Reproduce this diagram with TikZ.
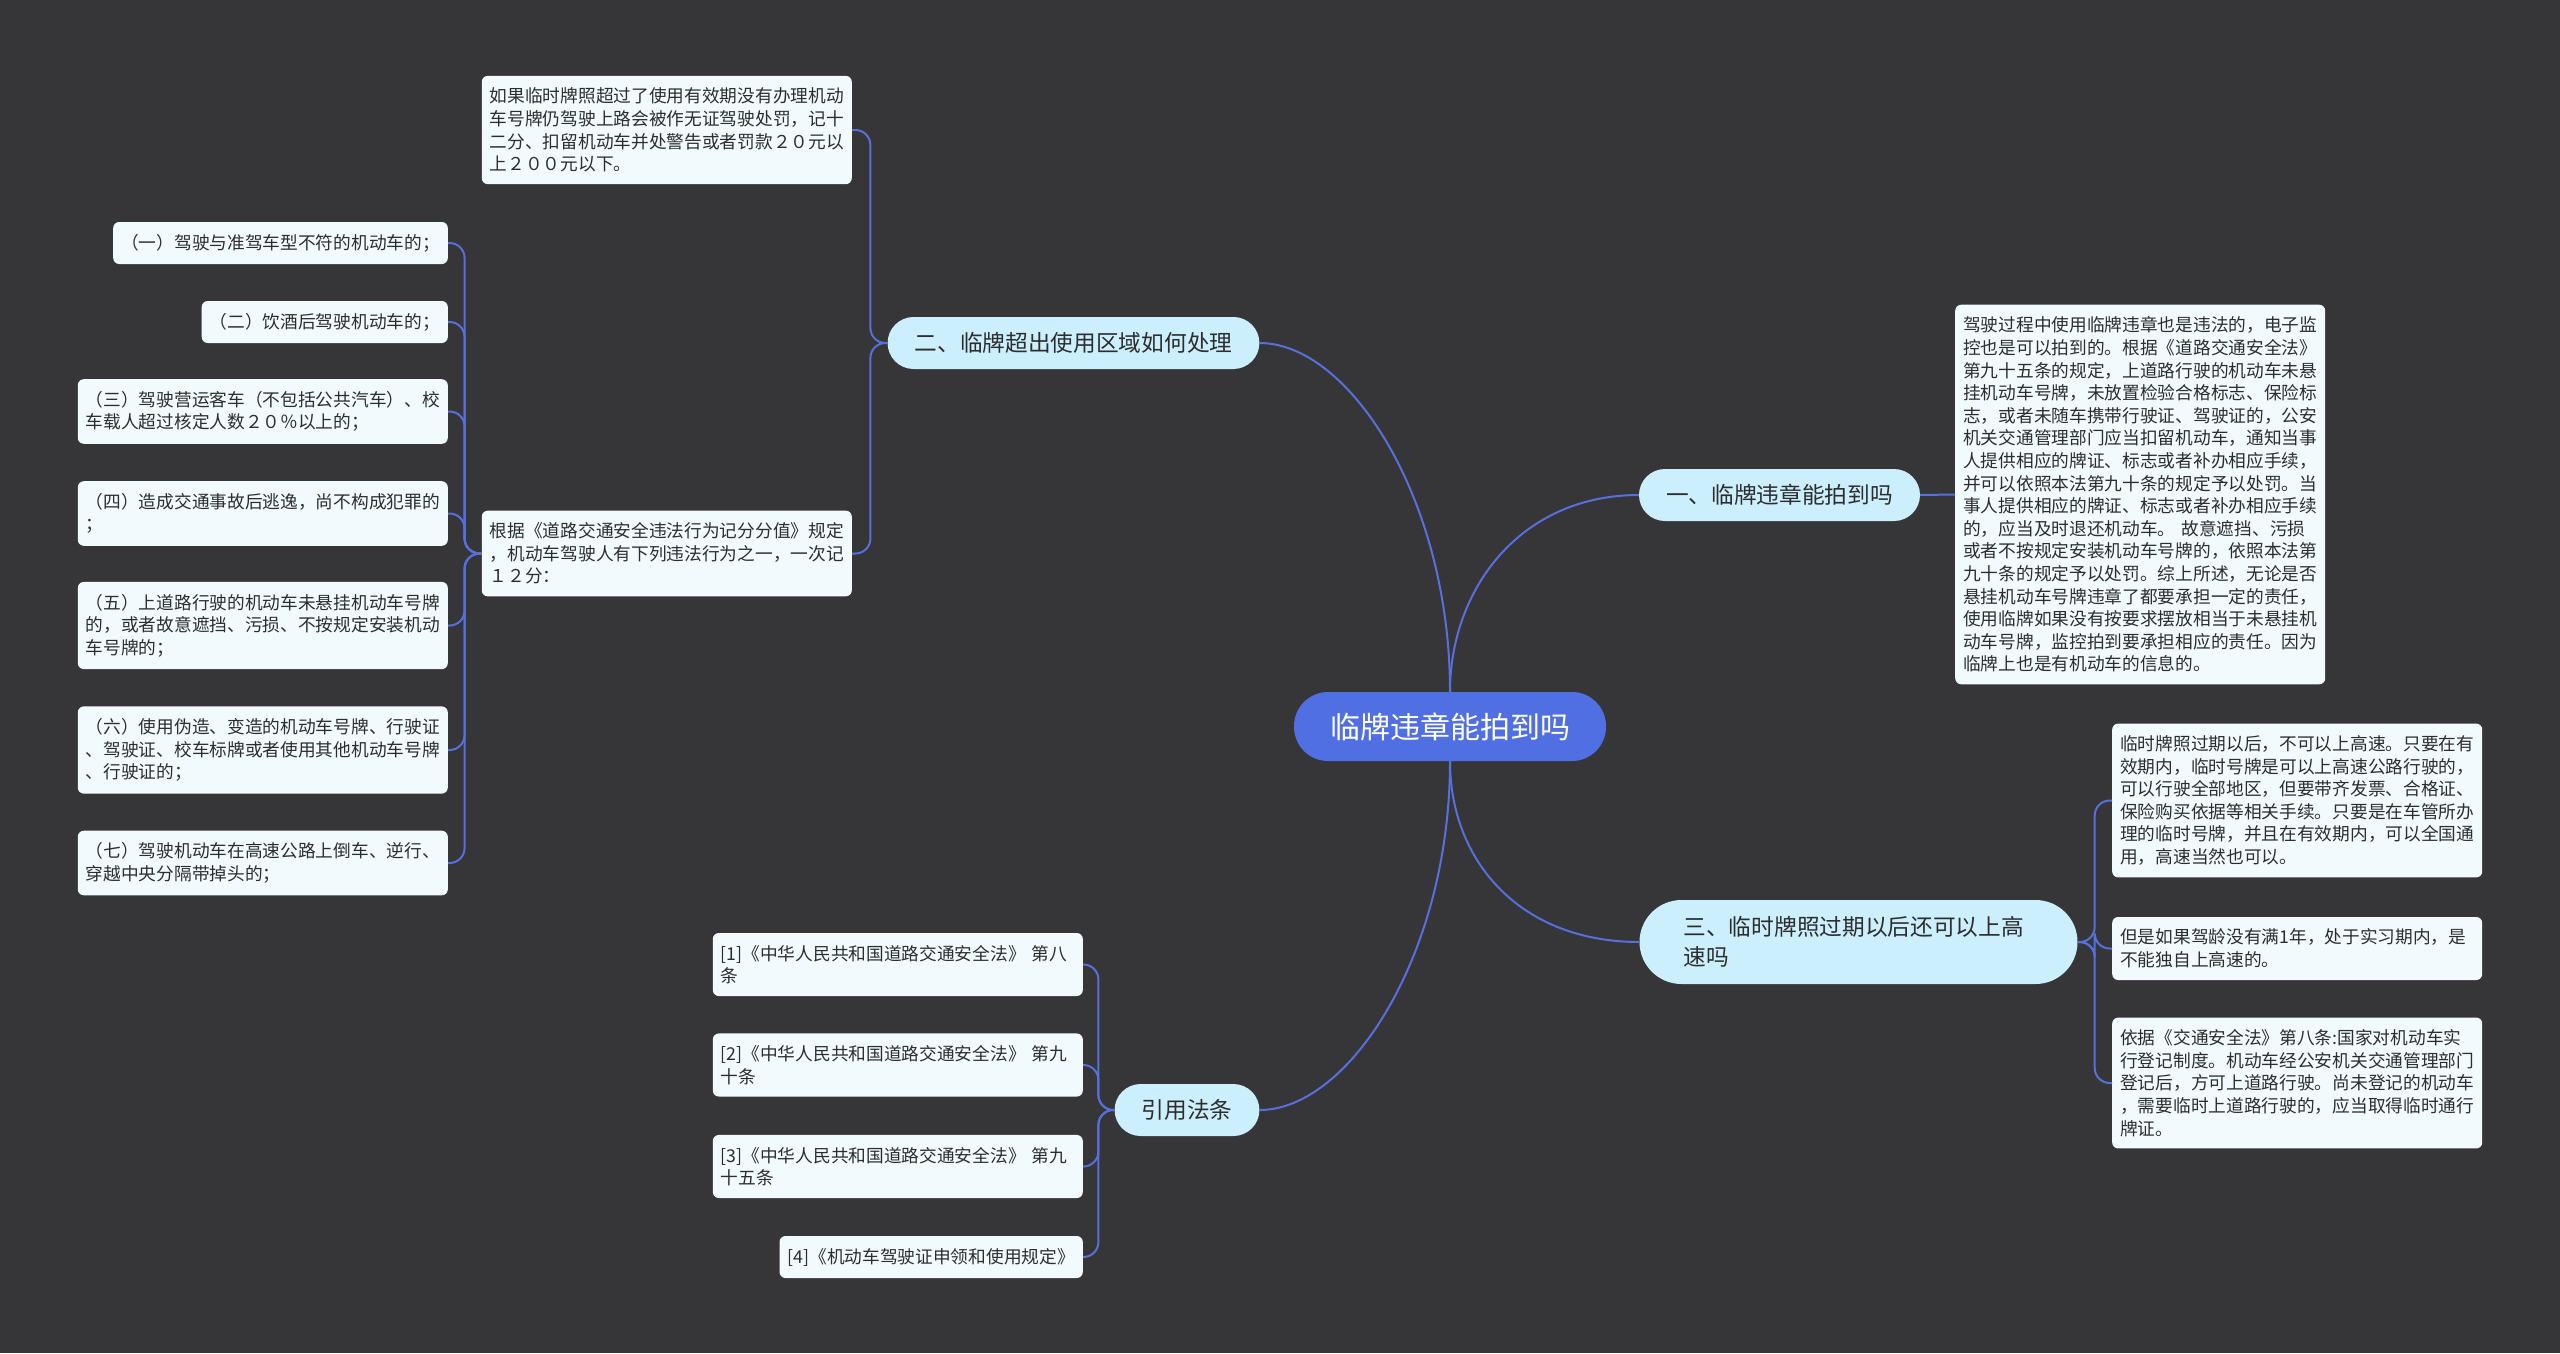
\documentclass[tikz,border=0pt]{standalone}
\usepackage{fontspec}
\setmainfont{Noto Sans CJK SC}
\usetikzlibrary{positioning}
\definecolor{bgdark}{RGB}{54,53,55}
\definecolor{rootblue}{RGB}{80,111,226}
\definecolor{linkblue}{RGB}{86,112,220}
\definecolor{topicfill}{RGB}{204,239,253}
\definecolor{notefill}{RGB}{241,251,254}
\definecolor{inkdark}{RGB}{45,45,45}

\begin{document}
\begin{tikzpicture}[x=1pt, y=-1pt, root/.style={fill=rootblue, text=white, rounded corners=34pt, minimum height=69pt, inner xsep=36pt, font=\fontsize{30}{36}\selectfont}, topic/.style={fill=topicfill, text=inkdark, rounded corners=26pt, minimum height=52pt, inner xsep=27pt, font=\fontsize{22.7}{30}\selectfont}, leaf/.style={fill=notefill, text=inkdark, rounded corners=6pt, align=left, inner xsep=8pt, inner ysep=12pt, font=\fontsize{17.7}{22.6}\selectfont}, note/.style={leaf, text width=354pt}, link/.style={draw=linkblue, line width=2pt}, brace/.style={link, rounded corners=15pt}]
\fill[bgdark] (0,0) rectangle (2560,1353);
\useasboundingbox (0,0) rectangle (2560,1353);
\node[root] (root) at (1450,726.5) {临牌违章能拍到吗};
\node[topic] (shot) at (1779.5,495) {一、临牌违章能拍到吗};
\node[topic] (area) at (1073.5,343) {二、临牌超出使用区域如何处理};
\node[topic, text width=350pt, align=left, inner xsep=44pt, rounded corners=42pt, minimum height=84pt] (expire) at (1858.5,942) {三、临时牌照过期以后还可以上高\\速吗};
\node[topic] (law) at (1187,1110) {引用法条};
\node[note, anchor=west] (shotnote) at (1955,494.5) {驾驶过程中使用临牌违章也是违法的，电子监\\控也是可以拍到的。根据《道路交通安全法》\\第九十五条的规定，上道路行驶的机动车未悬\\挂机动车号牌，未放置检验合格标志、保险标\\志，或者未随车携带行驶证、驾驶证的，公安\\机关交通管理部门应当扣留机动车，通知当事\\人提供相应的牌证、标志或者补办相应手续，\\并可以依照本法第九十条的规定予以处罚。当\\事人提供相应的牌证、标志或者补办相应手续\\的，应当及时退还机动车。 故意遮挡、污损\\或者不按规定安装机动车号牌的，依照本法第\\九十条的规定予以处罚。综上所述，无论是否\\悬挂机动车号牌违章了都要承担一定的责任，\\使用临牌如果没有按要求摆放相当于未悬挂机\\动车号牌，监控拍到要承担相应的责任。因为\\临牌上也是有机动车的信息的。};
\node[note, anchor=east] (areafine) at (852,130) {如果临时牌照超过了使用有效期没有办理机动\\车号牌仍驾驶上路会被作无证驾驶处罚，记十\\二分、扣留机动车并处警告或者罚款２０元以\\上２００元以下。};
\node[note, anchor=east] (arearule) at (852,553.5) {根据《道路交通安全违法行为记分分值》规定\\，机动车驾驶人有下列违法行为之一，一次记\\１２分：};
\node[leaf, anchor=east] (i1) at (448,243) {（一）驾驶与准驾车型不符的机动车的；};
\node[leaf, anchor=east] (i2) at (448,322) {（二）饮酒后驾驶机动车的；};
\node[note, anchor=east] (i3) at (448,411.5) {（三）驾驶营运客车（不包括公共汽车）、校\\车载人超过核定人数２０％以上的；};
\node[note, anchor=east] (i4) at (448,513.5) {（四）造成交通事故后逃逸，尚不构成犯罪的\\；};
\node[note, anchor=east] (i5) at (448,625.5) {（五）上道路行驶的机动车未悬挂机动车号牌\\的，或者故意遮挡、污损、不按规定安装机动\\车号牌的；};
\node[note, anchor=east] (i6) at (448,750) {（六）使用伪造、变造的机动车号牌、行驶证\\、驾驶证、校车标牌或者使用其他机动车号牌\\、行驶证的；};
\node[note, anchor=east] (i7) at (448,863) {（七）驾驶机动车在高速公路上倒车、逆行、\\穿越中央分隔带掉头的；};
\node[note, anchor=west] (exp1) at (2112,800.5) {临时牌照过期以后，不可以上高速。只要在有\\效期内，临时号牌是可以上高速公路行驶的，\\可以行驶全部地区，但要带齐发票、合格证、\\保险购买依据等相关手续。只要是在车管所办\\理的临时号牌，并且在有效期内，可以全国通\\用，高速当然也可以。};
\node[note, anchor=west] (exp2) at (2112,948.5) {但是如果驾龄没有满1年，处于实习期内，是\\不能独自上高速的。};
\node[note, anchor=west] (exp3) at (2112,1083) {依据《交通安全法》第八条:国家对机动车实\\行登记制度。机动车经公安机关交通管理部门\\登记后，方可上道路行驶。尚未登记的机动车\\，需要临时上道路行驶的，应当取得临时通行\\牌证。};
\node[note, anchor=east] (law1) at (1083,964.5) {[1]《中华人民共和国道路交通安全法》 第八\\条};
\node[note, anchor=east] (law2) at (1083,1065) {[2]《中华人民共和国道路交通安全法》 第九\\十条};
\node[note, anchor=east] (law3) at (1083,1166.5) {[3]《中华人民共和国道路交通安全法》 第九\\十五条};
\node[leaf, anchor=east] (law4) at (1083,1257) {[4]《机动车驾驶证申领和使用规定》};
\draw[link] (root.north) .. controls +(0,-102) and +(-119,0) .. (shot.west);
\draw[link] (root.north) .. controls +(0,-192) and +(90,0) .. (area.east);
\draw[link] (root.south) .. controls +(0,100) and +(-119,0) .. (expire.west);
\draw[link] (root.south) .. controls +(0,192) and +(90,0) .. (law.east);
\draw[link] (shot.east) -- (shotnote.west);
\draw[brace] (area.west) -- ++(-17,0) |- (areafine.east);
\draw[brace] (area.west) -- ++(-17,0) |- (arearule.east);
\draw[brace] (arearule.west) -- ++(-17,0) |- (i1.east);
\draw[brace] (arearule.west) -- ++(-17,0) |- (i2.east);
\draw[brace] (arearule.west) -- ++(-17,0) |- (i3.east);
\draw[brace] (arearule.west) -- ++(-17,0) |- (i4.east);
\draw[brace] (arearule.west) -- ++(-17,0) |- (i5.east);
\draw[brace] (arearule.west) -- ++(-17,0) |- (i6.east);
\draw[brace] (arearule.west) -- ++(-17,0) |- (i7.east);
\draw[brace] (expire.east) -- ++(17,0) |- (exp1.west);
\draw[brace] (expire.east) -- ++(17,0) |- (exp2.west);
\draw[brace] (expire.east) -- ++(17,0) |- (exp3.west);
\draw[brace] (law.west) -- ++(-16,0) |- (law1.east);
\draw[brace] (law.west) -- ++(-16,0) |- (law2.east);
\draw[brace] (law.west) -- ++(-16,0) |- (law3.east);
\draw[brace] (law.west) -- ++(-16,0) |- (law4.east);
\end{tikzpicture}
\end{document}
